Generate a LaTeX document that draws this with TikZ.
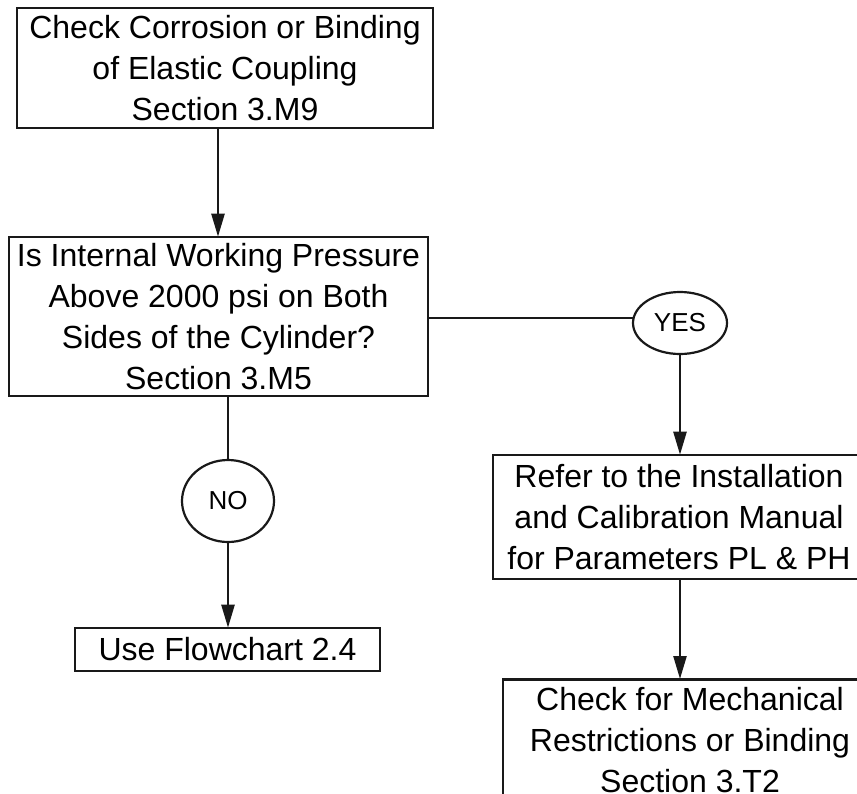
\documentclass[tikz,border=0pt]{standalone}
\usepackage{fontspec}
\setmainfont{Liberation Sans}
\usetikzlibrary{shapes.geometric,arrows.meta}

\tikzset{
  stepbox/.style={draw=black!90, line width=2.6pt, inner sep=0pt, align=center,
    font=\fontsize{32}{41}\selectfont},
  answer/.style={draw=black!90, ellipse, line width=2.2pt, inner sep=0pt,
    font=\fontsize{26}{30}\selectfont},
  link/.style={draw=black!90, line width=2.4pt},
  flow/.style={link, -{Triangle[length=23pt,width=13pt]}, shorten >=-1pt}
}

\begin{document}
\begin{tikzpicture}[x=1pt, y=-1pt]
  \useasboundingbox (0,0) rectangle (857,793);
  \clip (0,0) rectangle (857,793);

  % process boxes
  \node[stepbox, minimum width=416pt, minimum height=120pt] (coupling) at (225,68)
    {Check Corrosion or Binding\\of Elastic Coupling\\Section 3.M9};
  \node[stepbox, minimum width=419pt, minimum height=159pt] (pressure) at (218.5,316.5)
    {Is Internal Working Pressure\\Above 2000 psi on Both\\Sides of the Cylinder?\\Section 3.M5};
  \node[stepbox, minimum width=305pt, minimum height=43pt] (flowchart) at (227.5,649.5)
    {Use Flowchart 2.4};
  \node[stepbox, minimum width=372pt, minimum height=124pt] (manual) at (679,517)
    {Refer to the Installation\\and Calibration Manual\\for Parameters PL \& PH};
  \node[stepbox, minimum width=374pt, minimum height=122pt, anchor=north] (restrict) at (690,678)
    {Check for Mechanical\\Restrictions or Binding\\Section 3.T2};

  % decision answers
  \node[answer, minimum width=92pt, minimum height=82pt] (no) at (228,501) {NO};
  \node[answer, minimum width=94pt, minimum height=62pt] (yes) at (680,323) {YES};

  % connectors
  \draw[flow] (coupling.south -| 218,0) -- (pressure.north -| 218,0);
  \draw[link] (pressure.south -| no.north) -- (no.north);
  \draw[flow] (no.south) -- (flowchart.north -| no.south);
  \coordinate (yesin) at (634,318);
  \draw[link] (pressure.east |- yesin) -- (yesin);
  \draw[flow] (yes.south) -- (manual.north -| yes.south);
  \draw[flow] (manual.south -| yes.south) -- (restrict.north -| yes.south);
\end{tikzpicture}
\end{document}
